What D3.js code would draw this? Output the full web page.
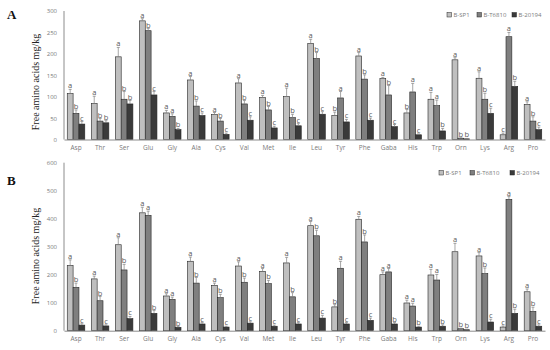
<!DOCTYPE html>
<html>
<head>
<meta charset="utf-8">
<script src="https://cdn.jsdelivr.net/npm/d3@7"></script>
<style>
  body { margin: 0; background: #fff; }
  svg { display: block; }
</style>
</head>
<body>
<div id="chart"></div>
<script>
// categories and series
const aminoAcids = ["Asp", "Thr", "Ser", "Glu", "Gly", "Ala", "Cys", "Val", "Met", "Ile",
    "Leu", "Tyr", "Phe", "Gaba", "His", "Trp", "Orn", "Lys", "Arg", "Pro"];
const strains = ["B-SP1", "B-T6810", "B-20194"];
const strainColors = ["#bfbfbf", "#7f7f7f", "#3a3a3a"];

// panel A values (mg/kg)
const sp1A = [107, 84, 193, 277, 62, 139, 58, 132, 98, 100, 224, 56, 195, 142, 62, 94, 186, 143, 11, 82];
const t6810A = [61, 43, 94, 254, 54, 78, 43, 83, 69, 51, 189, 97, 141, 104, 111, 79, 3, 94, 240, 43];
const b20194A = [36, 39, 83, 104, 23, 56, 12, 45, 27, 32, 59, 41, 45, 30, 11, 20, 1.5, 61, 124, 23];
const errSp1A = [10, 17, 22, 5, 6, 8, 5, 10, 5, 20, 10, 8, 8, 3, 8, 16, 5, 15, 4, 6];
const errT6810A = [8, 6, 18, 5, 6, 12, 6, 8, 8, 8, 14, 15, 10, 22, 20, 13, 1, 14, 10, 10];
const errB20194A = [6, 5, 8, 8, 3, 6, 3, 8, 4, 5, 6, 6, 5, 5, 2, 6, 1, 12, 12, 6];
const lettersA = ["abc", "abb", "abb", "abc", "aab", "abc", "abc", "abc", "abc", "abc",
    "abc", "bac", "abc", "abc", "bac", "aab", "abb", "abc", "cab", "abc"];
const ticksA = [0, 50, 100, 150, 200, 250, 300];

// panel B values (mg/kg)
const sp1B = [233, 185, 307, 421, 124, 248, 162, 231, 212, 242, 375, 85, 398, 200, 99, 199, 282, 267, 13, 139];
const t6810B = [155, 107, 217, 412, 112, 170, 118, 173, 168, 121, 339, 223, 317, 210, 88, 181, 7, 204, 469, 69];
const b20194B = [20, 17, 43, 62, 12, 24, 13, 27, 16, 24, 45, 24, 37, 24, 13, 16, 3.5, 31, 62, 16];
const errSp1B = [20, 10, 25, 20, 8, 15, 8, 15, 10, 20, 15, 8, 10, 10, 10, 20, 30, 12, 4, 10];
const errT6810B = [15, 15, 20, 15, 8, 20, 12, 15, 12, 15, 20, 25, 25, 12, 10, 20, 2, 20, 10, 15];
const errB20194B = [5, 4, 8, 10, 3, 5, 3, 5, 4, 5, 10, 5, 8, 5, 3, 5, 2, 10, 15, 5];
const lettersB = ["abc", "abc", "abc", "aab", "aab", "abc", "abc", "abc", "abc", "abc",
    "abc", "bac", "abc", "aab", "aab", "aab", "abb", "abc", "cab", "abc"];
const ticksB = [0, 100, 200, 300, 400, 500, 600];

const width = 550, height = 350;

const svg = d3.select("#chart")
    .append("svg")
    .attr("width", width)
    .attr("height", height);

function drawPanel(opt) {
    const g = svg.append("g");

    const x = d3.scaleBand().domain(aminoAcids).range([64, 545]).paddingInner(0.27).paddingOuter(0.135);
    const xs = d3.scaleBand().domain(strains).range([0, x.bandwidth()]);
    const y = d3.scaleLinear().domain([0, opt.max]).range([opt.bottom, opt.top]);

    // y axis: line and labels, no ticks
    g.append("line")
        .attr("x1", 64).attr("x2", 64)
        .attr("y1", y(0)).attr("y2", y(opt.max))
        .attr("stroke", "#8c8c8c").attr("stroke-width", 1);

    const yAxis = g.append("g")
        .attr("transform", "translate(64,0)")
        .call(d3.axisLeft(y).tickValues(opt.ticks).tickSize(0).tickPadding(7));
    yAxis.select(".domain").remove();
    yAxis.selectAll("text")
        .style("font-family", "'Open Sans', sans-serif")
        .style("font-size", "6px")
        .style("fill", "#7a7a7a");

    // bars
    const rows = [];
    aminoAcids.forEach((aa, i) => {
        strains.forEach((s, j) => {
            rows.push({ aa: aa, s: s, j: j, v: opt.values[j][i], e: opt.errors[j][i], l: opt.letters[i][j] });
        });
    });

    const grp = g.append("g");
    grp.selectAll("rect")
        .data(rows)
        .enter()
        .append("rect")
        .attr("x", d => x(d.aa) + xs(d.s))
        .attr("y", d => y(d.v))
        .attr("width", xs.bandwidth())
        .attr("height", d => y(0) - y(d.v))
        .attr("fill", d => strainColors[d.j])
        .attr("stroke", "#262626")
        .attr("stroke-width", 0.6);

    // error bars
    grp.selectAll("line.err")
        .data(rows)
        .enter()
        .append("line")
        .attr("class", "err")
        .attr("x1", d => x(d.aa) + xs(d.s) + xs.bandwidth() / 2)
        .attr("x2", d => x(d.aa) + xs(d.s) + xs.bandwidth() / 2)
        .attr("y1", d => y(d.v))
        .attr("y2", d => y(d.v + d.e))
        .attr("stroke", "#7f7f7f").attr("stroke-width", 0.7);

    grp.selectAll("line.cap")
        .data(rows)
        .enter()
        .append("line")
        .attr("class", "cap")
        .attr("x1", d => x(d.aa) + xs(d.s) + xs.bandwidth() / 2 - 1.5)
        .attr("x2", d => x(d.aa) + xs(d.s) + xs.bandwidth() / 2 + 1.5)
        .attr("y1", d => y(d.v + d.e))
        .attr("y2", d => y(d.v + d.e))
        .attr("stroke", "#7f7f7f").attr("stroke-width", 0.7);

    // significance letters
    grp.selectAll("text.sig")
        .data(rows)
        .enter()
        .append("text")
        .attr("class", "sig")
        .attr("x", d => x(d.aa) + xs(d.s) + xs.bandwidth() / 2)
        .attr("y", d => y(d.v + d.e) - 1)
        .attr("text-anchor", "middle")
        .style("font-family", "'Open Sans', sans-serif")
        .style("font-size", "7.5px")
        .style("fill", "#595959")
        .text(d => d.l);

    // x axis
    const xAxis = g.append("g")
        .attr("transform", "translate(0," + y(0) + ")")
        .call(d3.axisBottom(x).tickSize(0).tickPadding(6));
    xAxis.select(".domain").attr("stroke", "#8c8c8c");
    xAxis.selectAll("text")
        .style("font-family", "'Open Sans', sans-serif")
        .style("font-size", "6.5px")
        .style("fill", "#7a7a7a");

    // y title
    g.append("text")
        .attr("transform", "translate(39," + opt.titleY + ") rotate(-90)")
        .attr("text-anchor", "middle")
        .style("font-family", "'Liberation Serif', 'DejaVu Serif', serif")
        .style("font-size", "10px")
        .style("fill", "#222")
        .text("Free amino acids mg/kg");

    // panel letter
    g.append("text")
        .attr("x", 7).attr("y", opt.letterY)
        .style("font-family", "'Liberation Serif', serif")
        .style("font-weight", "bold")
        .style("font-size", "13px")
        .style("fill", "#111")
        .text(opt.name);

    // legend
    const lg = g.append("g");
    strains.forEach((s, j) => {
        const lx = opt.legendX[j];
        lg.append("rect")
            .attr("x", lx).attr("y", opt.legendY - 4.5)
            .attr("width", 4.5).attr("height", 4.5)
            .attr("fill", strainColors[j])
            .attr("stroke", "#262626").attr("stroke-width", 0.5);
        lg.append("text")
            .attr("x", lx + 6.5).attr("y", opt.legendY)
            .style("font-family", "'Open Sans', sans-serif")
            .style("font-size", "6px")
            .style("fill", "#7a7a7a")
            .text(s);
    });
}

drawPanel({
    name: "A", max: 300, top: 11, bottom: 139.5, ticks: ticksA,
    values: [sp1A, t6810A, b20194A], errors: [errSp1A, errT6810A, errB20194A], letters: lettersA,
    titleY: 82, letterY: 19, legendX: [447, 477, 512], legendY: 17
});

drawPanel({
    name: "B", max: 600, top: 162.7, bottom: 330.7, ticks: ticksB,
    values: [sp1B, t6810B, b20194B], errors: [errSp1B, errT6810B, errB20194B], letters: lettersB,
    titleY: 256, letterY: 185, legendX: [439, 470, 510], legendY: 175
});
</script>
</body>
</html>
